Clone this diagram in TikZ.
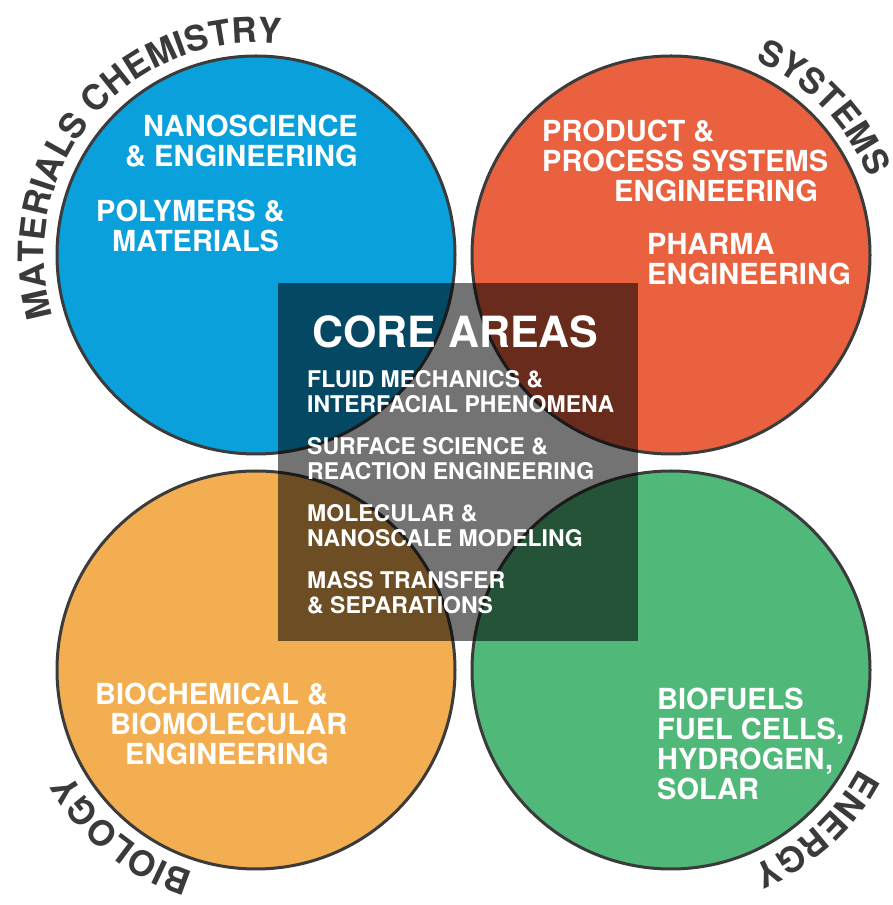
\documentclass[tikz,border=0pt]{standalone}
\usepackage{fontspec}
\setmainfont{TeX Gyre Heros}
\usetikzlibrary{positioning,decorations.text}
\definecolor{bleu}{HTML}{09A0DC}
\definecolor{rouge}{HTML}{E9613F}
\definecolor{ambre}{HTML}{F2AE50}
\definecolor{vert}{HTML}{50B97A}
\definecolor{contour}{HTML}{3B3B3B}
\definecolor{gris}{HTML}{3A3A3A}
\newcommand\etiq{\bfseries\fontsize{35}{35}\selectfont}
\begin{document}
\begin{tikzpicture}[
      x=1pt, y=1pt,
      node distance=415pt,
      cercle/.style={
        draw=contour,
        line width=3pt,
        circle,
        minimum size=398pt,
        inner sep=0pt
      },
      carre/.style={
        fill=black,
        fill opacity=0.55,
        minimum width=360pt,
        minimum height=358pt,
        inner sep=0pt
      },
      texte/.style={
        text=white,
        font=\bfseries\fontsize{29}{30}\selectfont,
        inner sep=0pt
      },
      liste/.style={
        text=white,
        font=\bfseries\fontsize{23}{25}\selectfont,
        inner sep=0pt,
        align=left
      },
      etiquette/.style={
        decorate,
        decoration={text along path, text align=center, text color=gris}
      }
    ]
    \useasboundingbox (0,0) rectangle (892,905);
    \node[cercle, fill=bleu] (materiaux) at (256,650) {} ;
    \node[cercle, fill=rouge, right of=materiaux] (systemes) {} ;
    \node[cercle, fill=ambre, below of=materiaux] (biologie) {} ;
    \node[cercle, fill=vert, right of=biologie] (energie) {} ;
    \node[carre] (coeur) at (458,443) {} ;

    % titres courbes
    \path[etiquette, decoration={text={|\etiq|MATERIALS CHEMISTRY}}]
      (materiaux.center) ++(210:212) arc[start angle=210, end angle=70, radius=212];
    \path[etiquette, decoration={text={|\etiq|SYSTEMS}}]
      (systemes.center) ++(80:212) arc[start angle=80, end angle=8, radius=212];
    \path[etiquette, decoration={text={|\etiq|BIOLOGY}}]
      (biologie.center) ++(266:212) arc[start angle=266, end angle=196, radius=212];
    \path[etiquette, decoration={text={|\etiq|ENERGY}}]
      (energie.center) ++(348:212) arc[start angle=348, end angle=277, radius=212];

    \node[texte, anchor=north east, align=right] (nano) at (358,790) {NANOSCIENCE\\\& ENGINEERING} ;
    \node[texte, anchor=north west, align=left] (polymeres) at (96,705) {POLYMERS \&\\\hspace*{16pt}MATERIALS} ;
    \node[texte, anchor=north west, align=left] (procede) at (542,785) {PRODUCT \&\\PROCESS SYSTEMS\\\hspace*{72pt}ENGINEERING} ;
    \node[texte, anchor=north west, align=left] (pharma) at (647,672) {PHARMA\\ENGINEERING} ;
    \node[texte, font=\bfseries\fontsize{43}{43}\selectfont, anchor=north west] (titre) at (312,590) {CORE AREAS} ;
    \node[liste, anchor=north west] (domaines) at (307,535) {FLUID MECHANICS \&\\INTERFACIAL PHENOMENA\\[17pt]SURFACE SCIENCE \&\\REACTION ENGINEERING\\[17pt]MOLECULAR \&\\NANOSCALE MODELING\\[17pt]MASS TRANSFER\\\& SEPARATIONS} ;
    \node[texte, anchor=north west, align=left] (biochimie) at (95,222) {BIOCHEMICAL \&\\\hspace*{15pt}BIOMOLECULAR\\\hspace*{30pt}ENGINEERING} ;
    \node[texte, anchor=north west, align=left] (carburants) at (657,217) {BIOFUELS\\FUEL CELLS,\\HYDROGEN,\\SOLAR} ;

  \end{tikzpicture}
\end{document}
